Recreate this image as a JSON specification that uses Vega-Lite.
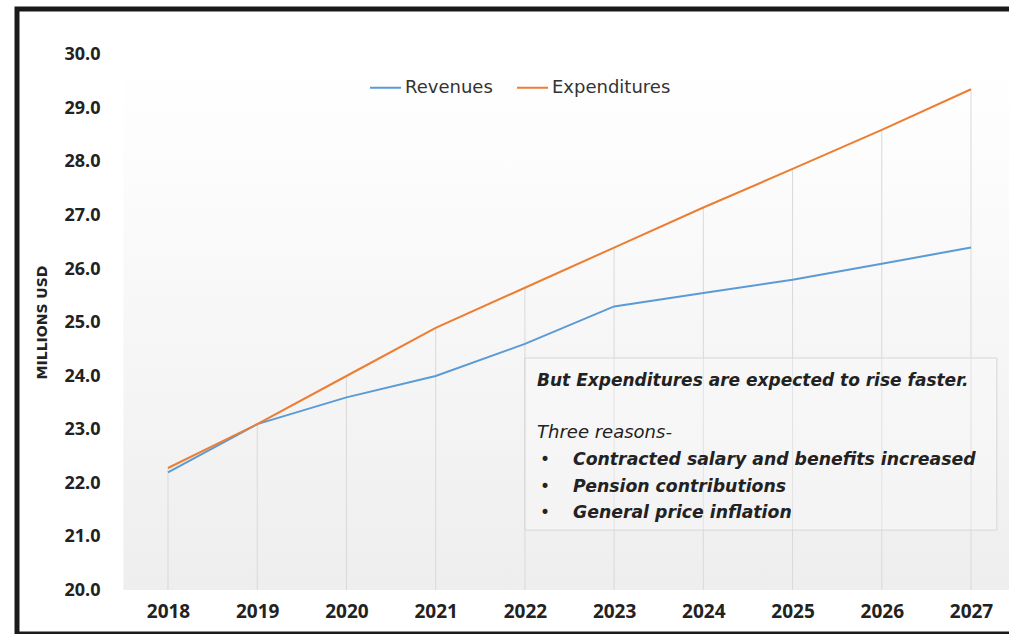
{
  "$schema": "https://vega.github.io/schema/vega-lite/v6.json",
  "width": 1000,
  "height": 625,
  "autosize": {"type": "none"},
  "padding": {"left": 17, "top": 9, "right": 0, "bottom": 0},
  "background": "white",
  "config": {"view": {"stroke": "#1a1a1a", "strokeWidth": 5}, "font": "Open Sans"},
  "datasets": {
    "series": [
      {"Year": 2018, "Series": "Revenues", "Value": 22.2},
      {"Year": 2019, "Series": "Revenues", "Value": 23.1},
      {"Year": 2020, "Series": "Revenues", "Value": 23.6},
      {"Year": 2021, "Series": "Revenues", "Value": 24.0},
      {"Year": 2022, "Series": "Revenues", "Value": 24.6},
      {"Year": 2023, "Series": "Revenues", "Value": 25.3},
      {"Year": 2024, "Series": "Revenues", "Value": 25.55},
      {"Year": 2025, "Series": "Revenues", "Value": 25.8},
      {"Year": 2026, "Series": "Revenues", "Value": 26.1},
      {"Year": 2027, "Series": "Revenues", "Value": 26.4},
      {"Year": 2018, "Series": "Expenditures", "Value": 22.28},
      {"Year": 2019, "Series": "Expenditures", "Value": 23.1},
      {"Year": 2020, "Series": "Expenditures", "Value": 24.0},
      {"Year": 2021, "Series": "Expenditures", "Value": 24.9},
      {"Year": 2022, "Series": "Expenditures", "Value": 25.65},
      {"Year": 2023, "Series": "Expenditures", "Value": 26.4},
      {"Year": 2024, "Series": "Expenditures", "Value": 27.15},
      {"Year": 2025, "Series": "Expenditures", "Value": 27.87},
      {"Year": 2026, "Series": "Expenditures", "Value": 28.6},
      {"Year": 2027, "Series": "Expenditures", "Value": 29.36}
    ],
    "one": [{}]
  },
  "layer": [
    {
      "data": {"name": "one"},
      "mark": {"type": "rect", "clip": true, "color": {"gradient": "linear", "x1": 0, "y1": 0, "x2": 0, "y2": 1, "stops": [{"offset": 0, "color": "#ffffff"}, {"offset": 0.15, "color": "#fdfdfd"}, {"offset": 1, "color": "#eeeeee"}]}},
      "encoding": {
        "x": {"datum": 2017.5, "type": "quantitative", "scale": {"domain": [2016.3076, 2027.5154], "nice": false, "zero": false}},
        "x2": {"datum": 2028.5},
        "y": {"datum": 20, "type": "quantitative", "scale": {"domain": [19.1776, 30.8598], "nice": false, "zero": false}},
        "y2": {"datum": 30}
      }
    },
    {
      "data": {"name": "series"},
      "transform": [{"filter": "datum.Series === 'Expenditures'"}],
      "mark": {"type": "rule", "color": "#d9d9d9", "strokeWidth": 1},
      "encoding": {
        "x": {"field": "Year", "type": "quantitative"},
        "y": {"field": "Value", "type": "quantitative"},
        "y2": {"datum": 20}
      }
    },
    {
      "data": {"name": "one"},
      "mark": {"type": "rect", "fill": "#ffffff", "fillOpacity": 0.25, "stroke": "#d6d6d6", "strokeWidth": 1},
      "encoding": {
        "x": {"datum": 2022.0, "type": "quantitative"},
        "x2": {"datum": 2027.29},
        "y": {"datum": 24.336, "type": "quantitative"},
        "y2": {"datum": 21.12}
      }
    },
    {
      "data": {"name": "series"},
      "mark": {"type": "line", "strokeWidth": 2},
      "encoding": {
        "x": {"field": "Year", "type": "quantitative", "axis": {"orient": "bottom", "offset": -44, "values": [2018, 2019, 2020, 2021, 2022, 2023, 2024, 2025, 2026, 2027], "format": "d", "domain": false, "ticks": false, "grid": false, "labelPadding": 12, "labelFontSize": 19, "labelFontWeight": "bold", "labelColor": "#222", "title": null}},
        "y": {"field": "Value", "type": "quantitative", "axis": {"orient": "left", "offset": -106, "values": [20, 21, 22, 23, 24, 25, 26, 27, 28, 29, 30], "format": ".1f", "domain": false, "ticks": false, "grid": false, "labelPadding": 23, "labelFontSize": 18, "labelFontWeight": "bold", "labelColor": "#222", "title": "MILLIONS USD", "titleFont": "DejaVu Sans", "titleFontSize": 14, "titleFontWeight": "bold", "titleColor": "#222", "titleX": -81, "titleY": 313, "titleAngle": 270, "titleAlign": "center", "titleBaseline": "middle"}},
        "color": {"field": "Series", "type": "nominal", "scale": {"domain": ["Revenues", "Expenditures"], "range": ["#5b9bd5", "#ed7d31"]}, "legend": {"orient": "none", "legendX": 352, "legendY": 62, "direction": "horizontal", "title": null, "symbolType": "stroke", "symbolSize": 961, "symbolStrokeWidth": 2, "labelFont": "DejaVu Sans", "labelFontSize": 18, "labelColor": "#333", "labelOffset": 3, "columnPadding": 20}}
      }
    },
    {
      "data": {"name": "one"},
      "mark": {"type": "text", "text": "But Expenditures are expected to rise faster.", "font": "DejaVu Sans", "align": "left", "baseline": "alphabetic", "fontSize": 17, "fontStyle": "italic", "fontWeight": "bold", "color": "#222"},
      "encoding": {"x": {"datum": 2022.136, "type": "quantitative"}, "y": {"datum": 23.813, "type": "quantitative"}}
    },
    {
      "data": {"name": "one"},
      "mark": {"type": "text", "text": "Three reasons-", "font": "DejaVu Sans", "align": "left", "baseline": "alphabetic", "fontSize": 18, "fontStyle": "italic", "fontWeight": "normal", "color": "#222"},
      "encoding": {"x": {"datum": 2022.136, "type": "quantitative"}, "y": {"datum": 22.841, "type": "quantitative"}}
    },
    {
      "data": {"name": "one"},
      "mark": {"type": "text", "text": "•", "font": "DejaVu Sans", "align": "left", "baseline": "alphabetic", "fontSize": 17, "color": "#222"},
      "encoding": {"x": {"datum": 2022.17, "type": "quantitative"}, "y": {"datum": 22.336, "type": "quantitative"}}
    },
    {
      "data": {"name": "one"},
      "mark": {"type": "text", "text": "•", "font": "DejaVu Sans", "align": "left", "baseline": "alphabetic", "fontSize": 17, "color": "#222"},
      "encoding": {"x": {"datum": 2022.17, "type": "quantitative"}, "y": {"datum": 21.832, "type": "quantitative"}}
    },
    {
      "data": {"name": "one"},
      "mark": {"type": "text", "text": "•", "font": "DejaVu Sans", "align": "left", "baseline": "alphabetic", "fontSize": 17, "color": "#222"},
      "encoding": {"x": {"datum": 2022.17, "type": "quantitative"}, "y": {"datum": 21.346, "type": "quantitative"}}
    },
    {
      "data": {"name": "one"},
      "mark": {"type": "text", "text": "Contracted salary and benefits increased", "font": "DejaVu Sans", "align": "left", "baseline": "alphabetic", "fontSize": 17.3, "fontStyle": "italic", "fontWeight": "bold", "color": "#222"},
      "encoding": {"x": {"datum": 2022.539, "type": "quantitative"}, "y": {"datum": 22.336, "type": "quantitative"}}
    },
    {
      "data": {"name": "one"},
      "mark": {"type": "text", "text": "Pension contributions", "font": "DejaVu Sans", "align": "left", "baseline": "alphabetic", "fontSize": 17.3, "fontStyle": "italic", "fontWeight": "bold", "color": "#222"},
      "encoding": {"x": {"datum": 2022.539, "type": "quantitative"}, "y": {"datum": 21.832, "type": "quantitative"}}
    },
    {
      "data": {"name": "one"},
      "mark": {"type": "text", "text": "General price inflation", "font": "DejaVu Sans", "align": "left", "baseline": "alphabetic", "fontSize": 17.3, "fontStyle": "italic", "fontWeight": "bold", "color": "#222"},
      "encoding": {"x": {"datum": 2022.539, "type": "quantitative"}, "y": {"datum": 21.346, "type": "quantitative"}}
    }
  ]
}
